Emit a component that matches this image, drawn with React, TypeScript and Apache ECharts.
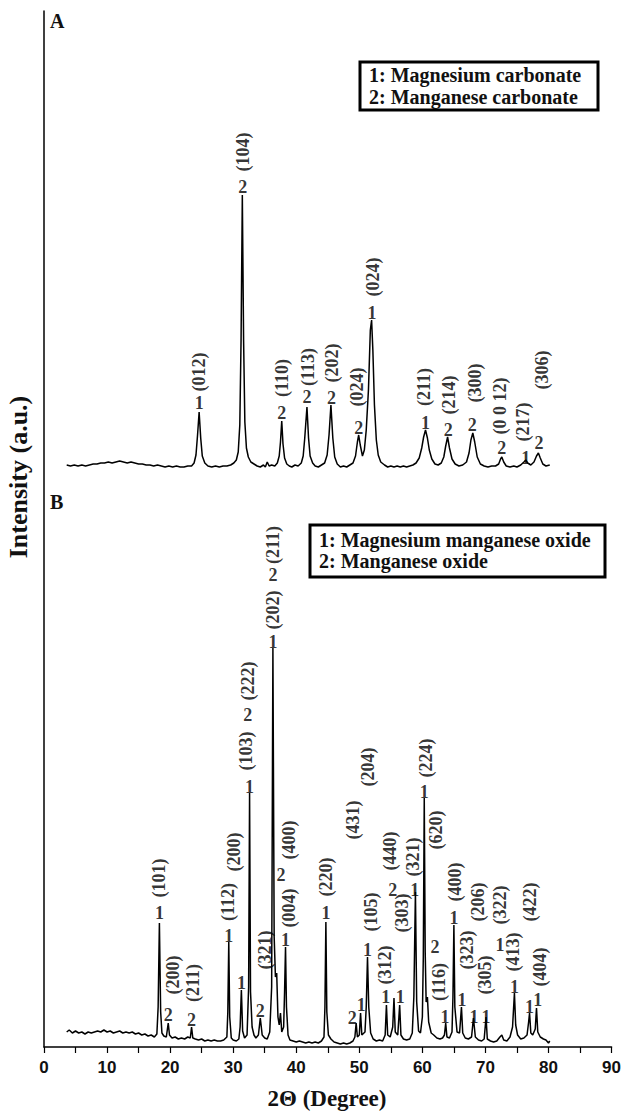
import React, { useEffect, useRef } from "react";
import * as echarts from "echarts";

// ---- Axis ----
const X_MIN = 0;
const X_MAX = 90;
const X_INTERVAL = 10;
const Y_MAX = 1036;
const OFFSET_A = 577; // vertical stacking offset of pattern A

// ---- Pattern A: [2θ, intensity] ----
const patternA: number[][] = [
  [3.6,5],[4.2,4],[4.8,5],[5.4,4],[6,5],[6.6,4],[7.2,5],[7.8,6],[8.4,6],[9,7],[9.6,7],[10.2,8],[10.8,7],[11.4,8],[12,9],[12.6,8],[13.2,7],[13.8,8],[14.4,7],[15,6],[15.6,6],[16.2,5],[16.8,5],[17.4,4],[18,5],[18.6,4],[19.2,3],[19.8,4],[20.4,3],[21,4],[21.6,3],[22.2,3],[22.8,4],[23.4,4],[23.8,7],[24.1,15],[24.35,35],[24.6,58],[24.85,32],[25.1,14],[25.5,7],[26,4],[26.6,3],[27.2,4],[27.8,3],[28.4,4],[29,4],[29.6,5],[30.1,7],[30.5,10],[30.8,18],[31.05,45],[31.25,130],[31.45,275],[31.65,130],[31.85,48],[32.1,22],[32.4,13],[32.8,8],[33.3,6],[33.8,4],[34.3,3],[34.8,5],[35.1,3],[35.4,8],[35.7,4],[36.1,5],[36.6,4],[37.0,7],[37.3,14],[37.5,28],[37.7,49],[37.9,26],[38.15,12],[38.5,6],[38.9,4],[39.3,3],[39.8,5],[40.3,4],[40.8,7],[41.1,14],[41.35,32],[41.7,63],[41.95,32],[42.2,14],[42.6,7],[43,4],[43.5,3],[44,5],[44.5,7],[44.9,15],[45.2,35],[45.5,65],[45.8,32],[46.1,13],[46.5,6],[47,3],[47.5,4],[48,3],[48.5,5],[49,7],[49.4,14],[49.7,28],[49.9,35],[50.15,25],[50.5,14],[50.8,20],[51.1,40],[51.45,80],[51.75,140],[51.95,150],[52.15,120],[52.4,65],[52.7,30],[53.0,15],[53.4,8],[54,5],[54.5,3],[55,4],[55.5,3],[56,4],[56.5,3],[57,4],[57.5,3],[58,4],[58.5,5],[59,7],[59.5,12],[59.9,22],[60.2,33],[60.5,40],[60.8,32],[61.1,20],[61.5,11],[62,6],[62.5,5],[63,7],[63.4,13],[63.7,24],[64.0,33],[64.3,22],[64.7,11],[65.2,6],[65.8,4],[66.4,5],[67,8],[67.4,17],[67.7,30],[68.0,37],[68.3,28],[68.7,13],[69.2,6],[69.8,4],[70.4,3],[71,4],[71.6,4],[72.1,6],[72.4,11],[72.6,13],[72.9,8],[73.3,4],[73.9,3],[74.5,4],[75,3],[75.6,5],[76.1,8],[76.4,10],[76.7,7],[77.2,5],[77.7,8],[78.1,14],[78.4,17],[78.7,12],[79.1,6],[79.6,4],[80.2,5]
];

// ---- Pattern B: [2θ, intensity] ----
const patternB: number[][] = [
  [3.6,15],[4,17],[4.5,14],[5,16],[5.5,14],[6,15],[6.5,13],[7,15],[7.5,14],[8,15],[8.5,16],[9,15],[9.5,17],[10,15],[10.5,16],[11,14],[11.5,15],[12,16],[12.5,14],[13,15],[13.5,14],[14,15],[14.5,13],[15,14],[15.5,12],[16,13],[16.5,11],[17,12],[17.5,10],[17.9,13],[18.1,40],[18.3,124],[18.5,35],[18.7,14],[19,11],[19.4,10],[19.7,24],[19.9,12],[20.3,9],[20.8,10],[21.3,8],[21.8,9],[22.3,8],[22.8,10],[23.2,9],[23.4,20],[23.6,9],[24,8],[24.5,7],[25,8],[25.5,6],[26,7],[26.5,6],[27,7],[27.5,6],[28,6],[28.5,7],[29,10],[29.15,35],[29.3,105],[29.45,30],[29.7,9],[30,7],[30.5,6],[30.9,8],[31.1,20],[31.3,57],[31.5,16],[31.8,9],[32.2,12],[32.45,60],[32.6,254],[32.75,55],[33,20],[33.3,12],[33.6,9],[34.0,12],[34.3,29],[34.6,12],[35,9],[35.4,8],[35.8,15],[36.1,60],[36.3,399],[36.5,110],[36.7,70],[36.9,74],[37.1,30],[37.3,22],[37.5,34],[37.7,15],[38.0,20],[38.15,55],[38.3,100],[38.45,40],[38.7,12],[39,7],[39.5,6],[40,5],[40.5,6],[41,5],[41.5,4],[42,5],[42.5,4],[43,5],[43.5,4],[44,6],[44.4,10],[44.55,40],[44.7,125],[44.85,35],[45.1,12],[45.5,8],[46,5],[46.5,4],[47,3],[47.5,4],[48,3],[48.5,4],[49,6],[49.3,10],[49.5,24],[49.7,10],[50.0,12],[50.2,34],[50.4,12],[50.9,15],[51.1,40],[51.3,90],[51.5,40],[51.8,14],[52.2,8],[52.7,6],[53.2,7],[53.7,6],[54.1,12],[54.3,42],[54.5,12],[54.9,10],[55.3,20],[55.5,49],[55.7,15],[56.1,12],[56.4,42],[56.6,12],[57,8],[57.5,7],[58,8],[58.4,14],[58.65,50],[58.9,155],[59.1,45],[59.4,16],[59.7,14],[60.0,30],[60.15,90],[60.3,249],[60.45,95],[60.6,45],[60.8,50],[61.0,25],[61.4,14],[61.8,12],[62.3,9],[62.8,8],[63.2,9],[63.5,12],[63.7,24],[63.9,10],[64.3,9],[64.7,15],[64.85,50],[65.0,122],[65.15,40],[65.5,15],[65.9,14],[66.2,40],[66.4,14],[66.8,9],[67.3,8],[67.8,10],[68.1,29],[68.4,10],[68.9,7],[69.4,6],[69.8,8],[70.1,30],[70.3,8],[70.8,6],[71.3,5],[71.8,6],[72.3,10],[72.6,12],[72.9,7],[73.4,6],[73.9,10],[74.3,20],[74.6,54],[74.8,22],[75.1,12],[75.6,8],[76.1,9],[76.6,12],[76.85,25],[77.0,34],[77.2,14],[77.5,12],[77.9,18],[78.1,39],[78.3,15],[78.7,10],[79.2,8],[79.6,7],[80.0,4],[80.2,6]
];

// ---- Annotations: [2θ, intensity, text] ----
const phaseLabelsA: [number, number, string][] = [
  [24.6,67,"1"],[31.5,283,"2"],[37.7,57,"2"],[41.7,73,"2"],[45.6,72,"2"],[49.9,42,"2"],[52.0,157,"1"],[60.5,47,"1"],[64.1,40,"2"],[67.9,45,"2"],[72.6,22,"2"],[76.4,12,"1"],[78.5,27,"2"]
];
const hklLabelsA: [number, number, string][] = [
  [24.6,98,"(012)"],[31.5,318,"(104)"],[37.7,92,"(110)"],[41.8,103,"(113)"],[45.6,107,"(202)"],[49.6,83,"(024)"],[52.1,193,"(024)"],[60.2,83,"(211)"],[64.2,75,"(214)"],[68.3,87,"(300)"],[72.3,64,"(0 0 12)"],[75.9,48,"(217)"],[78.9,100,"(306)"]
];
const phaseLabelsB: [number, number, string][] = [
  [18.3,134,"1"],[19.7,32,"2"],[23.4,27,"2"],[29.3,111,"1"],[31.3,64,"1"],[32.6,260,"1"],[34.3,36,"2"],[36.3,405,"1"],[36.3,472,"2"],[32.3,332,"2"],[37.6,172,"2"],[38.3,107,"1"],[44.7,134,"1"],[48.9,29,"2"],[50.3,42,"1"],[51.3,97,"1"],[54.2,50,"1"],[55.3,157,"2"],[56.5,50,"1"],[58.8,157,"1"],[60.3,255,"1"],[62.0,100,"2"],[63.6,30,"1"],[65.0,129,"1"],[66.3,47,"1"],[68.2,30,"1"],[70.1,30,"1"],[72.3,102,"1"],[74.6,60,"1"],[77.0,40,"1"],[78.3,47,"1"]
];
const hklLabelsB: [number, number, string][] = [
  [18.2,169,"(101)"],[20.5,72,"(200)"],[23.7,64,"(211)"],[29.2,145,"(112)"],[30.1,195,"(200)"],[32.1,296,"(103)"],[32.4,366,"(222)"],[36.3,437,"(202)"],[36.3,502,"(211)"],[35.0,97,"(321)"],[38.9,207,"(400)"],[38.9,139,"(004)"],[44.7,170,"(220)"],[49.0,227,"(431)"],[51.3,280,"(204)"],[51.8,135,"(105)"],[54.0,82,"(312)"],[54.8,196,"(440)"],[56.7,134,"(303)"],[58.5,190,"(321)"],[60.6,289,"(224)"],[62.2,217,"(620)"],[62.7,65,"(116)"],[65.1,165,"(400)"],[67.0,97,"(323)"],[68.8,145,"(206)"],[69.9,72,"(305)"],[72.3,142,"(322)"],[74.4,95,"(413)"],[77.0,145,"(422)"],[78.6,80,"(404)"]
];

const legendA = ["1: Magnesium carbonate", "2: Manganese carbonate"];
const legendB = ["1: Magnesium manganese oxide", "2: Manganese oxide"];
const panelNames = ["A", "B"];
const xTitle = "2\u0398 (Degree)";
const yTitle = "Intensity (a.u.)";

const SERIF = "'Liberation Serif', 'Times New Roman', serif";
const SANS = "'Liberation Sans', Arial, sans-serif";

function labelSeries(data: [number, number, string][], offset: number, rotate: number) {
  return {
    type: "scatter",
    silent: true,
    symbolSize: 1,
    itemStyle: { color: "rgba(0,0,0,0)" },
    data: data.map((d) => [d[0], d[1] + offset, d[2]]),
    label: {
      show: true,
      position: "inside",
      rotate,
      align: "center",
      verticalAlign: "middle",
      formatter: (p: any) => p.data[2],
      fontFamily: SERIF,
      fontWeight: "bold",
      fontSize: 18,
      color: "#000",
      textBorderWidth: 0,
    },
    z: 5,
  };
}

function legendBox(x: number, y: number, w: number, h: number, lines: string[], lineY: number[]) {
  return {
    type: "group",
    children: [
      { type: "rect", shape: { x, y, width: w, height: h }, style: { fill: "#fff", stroke: "#000", lineWidth: 3 } },
      ...lines.map((t, i) => ({
        type: "text",
        x: x + 9,
        y: lineY[i],
        style: { text: t, font: `bold 20px ${SERIF}`, fill: "#111", textVerticalAlign: "middle" },
      })),
    ],
  };
}

export default function App() {
  const ref = useRef<HTMLDivElement>(null);
  useEffect(() => {
    if (!ref.current) return;
    const chart = echarts.init(ref.current, null, { renderer: "svg" });
    chart.setOption({
      animation: false,
      backgroundColor: "#fff",
      grid: { left: 44, right: 12, top: 11, bottom: 67 },
      xAxis: {
        type: "value",
        min: X_MIN,
        max: X_MAX,
        interval: X_INTERVAL,
        axisLine: { show: true, lineStyle: { color: "#000", width: 1.5 } },
        axisTick: { show: true, length: 6, lineStyle: { color: "#000", width: 1.2 } },
        minorTick: { show: true, splitNumber: 2, length: 6, lineStyle: { color: "#000", width: 1.2 } },
        splitLine: { show: false },
        axisLabel: { color: "#111", fontFamily: SANS, fontWeight: "bold", fontSize: 17, margin: 12 },
      },
      yAxis: {
        type: "value",
        min: 0,
        max: Y_MAX,
        axisLine: { show: true, lineStyle: { color: "#000", width: 1.5 } },
        axisTick: { show: false },
        axisLabel: { show: false },
        splitLine: { show: false },
      },
      series: [
        {
          type: "line",
          data: patternA.map((p) => [p[0], p[1] + OFFSET_A]),
          showSymbol: false,
          silent: true,
          lineStyle: { color: "#000", width: 1.5 },
        },
        {
          type: "line",
          data: patternB,
          showSymbol: false,
          silent: true,
          lineStyle: { color: "#000", width: 1.5 },
        },
        labelSeries(phaseLabelsA, OFFSET_A, 0),
        labelSeries(hklLabelsA, OFFSET_A, 90),
        labelSeries(phaseLabelsB, 0, 0),
        labelSeries(hklLabelsB, 0, 90),
      ],
      graphic: [
        { type: "text", x: 50, y: 21, style: { text: panelNames[0], font: `bold 20px ${SERIF}`, fill: "#111", textVerticalAlign: "middle" } },
        { type: "text", x: 50, y: 502, style: { text: panelNames[1], font: `bold 20px ${SERIF}`, fill: "#111", textVerticalAlign: "middle" } },
        legendBox(360, 62, 238, 48, legendA, [75, 97]),
        legendBox(310, 525, 295, 52, legendB, [540, 561]),
        {
          type: "text",
          x: 327,
          y: 1098,
          style: { text: xTitle, font: `bold 23px ${SERIF}`, fill: "#111", textAlign: "center", textVerticalAlign: "middle" },
        },
        {
          type: "text",
          x: 18,
          y: 477,
          rotation: Math.PI / 2,
          style: { text: yTitle, font: `bold 26px ${SERIF}`, fill: "#111", textAlign: "center", textVerticalAlign: "middle" },
        },
      ],
    });
    return () => chart.dispose();
  }, []);
  return <div ref={ref} style={{ position: "absolute", left: 0, top: 0, width: 624, height: 1114 }} />;
}
